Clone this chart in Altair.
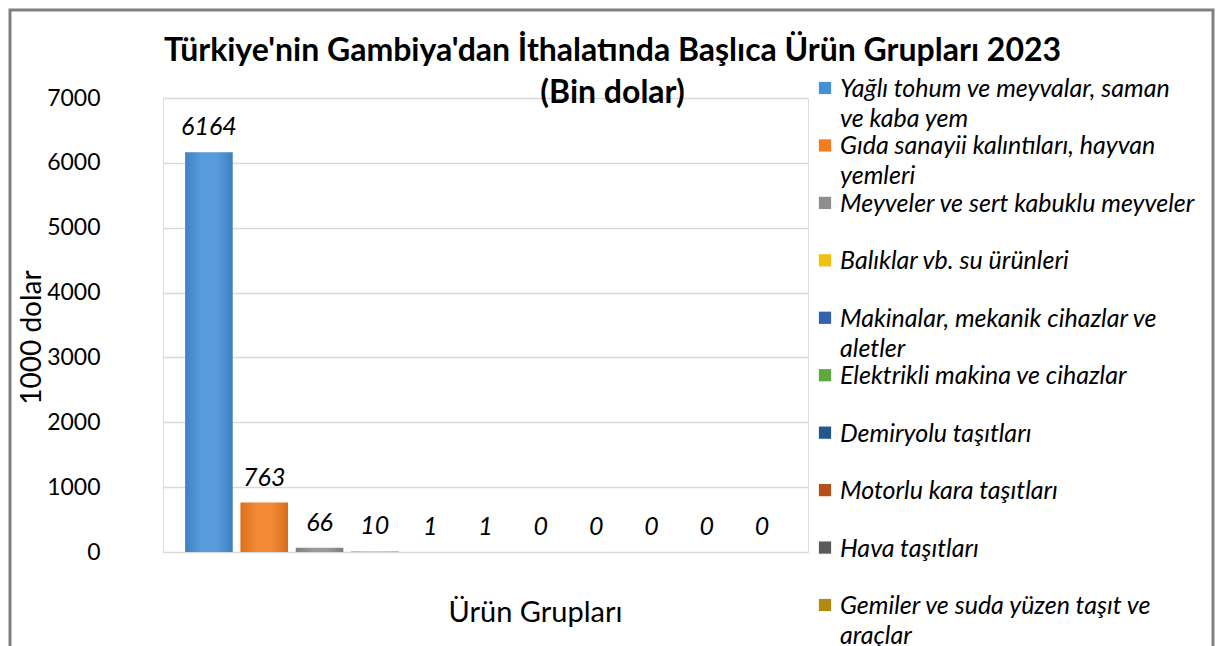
import altair as alt
import pandas as pd

# ---- data ----
legend_names = [
    "Yağlı tohum ve meyvalar, saman\nve kaba yem",
    "Gıda sanayii kalıntıları, hayvan\nyemleri",
    "Meyveler ve sert kabuklu meyveler",
    "Balıklar vb. su ürünleri",
    "Makinalar, mekanik cihazlar ve\naletler",
    "Elektrikli makina ve cihazlar",
    "Demiryolu taşıtları",
    "Motorlu kara taşıtları",
    "Hava taşıtları",
    "Gemiler ve suda yüzen taşıt ve\naraçlar",
]
values = [6164, 763, 66, 10, 1, 1, 0, 0, 0, 0, 0]
bar_colors = ["#4690d8", "#f27c1e", "#8e8e8e", "#f2c012", "#3562b0", "#5fa83f",
              "#24578f", "#b4501a", "#5a5a5a", "#b38a10", "#7fb2e3"]
y_ticks = [0, 1000, 2000, 3000, 4000, 5000, 6000, 7000]
title_lines = ["Türkiye'nin Gambiya'dan İthalatında Başlıca Ürün Grupları 2023", "(Bin dolar)"]

FONT = "Lato"

bars_df = pd.DataFrame({
    "sira": list(range(1, len(values) + 1)),
    "deger": values,
    "renk": bar_colors,
})
legend_df = pd.DataFrame({
    "idx": list(range(len(legend_names))),
    "ad": legend_names,
    "renk": bar_colors[:len(legend_names)],
})
frame_df = pd.DataFrame({"k": [0]})

x_scale = alt.Scale(paddingInner=0.14, paddingOuter=0.4)
x_enc = alt.X(
    "sira:O",
    scale=x_scale,
    axis=alt.Axis(labels=False, ticks=False, domain=False, grid=False,
                  title="Ürün Grupları", titleFont=FONT, titleFontSize=29,
                  titleFontWeight="normal", titleColor="#000000",
                  titleX=372, titleY=60, titleAlign="center", titleBaseline="middle"),
)
y_scale = alt.Scale(domain=[0, 7000], nice=False)

bars = alt.Chart(bars_df).mark_bar().encode(
    x=x_enc,
    y=alt.Y("deger:Q", scale=y_scale,
            axis=alt.Axis(values=y_ticks, format="d", grid=True, gridColor="#d9d9d9", gridWidth=1.5,
                          domain=False, ticks=False, tickSize=0, labelPadding=63,
                          labelFont=FONT, labelFontSize=23, labelColor="#000000",
                          title="1000 dolar", titleFont=FONT, titleFontSize=28,
                          titleFontWeight="normal", titleColor="#000000",
                          titleX=-131, titleY=239, titleAngle=270,
                          titleAlign="center", titleBaseline="middle")),
    color=alt.Color("renk:N", scale=None),
)

shine = alt.Chart(bars_df).mark_bar(
    color=alt.Gradient(
        gradient="linear", x1=0, x2=1, y1=0, y2=0,
        stops=[alt.GradientStop(offset=0, color="rgba(0,0,0,0.10)"),
               alt.GradientStop(offset=0.35, color="rgba(255,255,255,0.10)"),
               alt.GradientStop(offset=0.65, color="rgba(255,255,255,0.10)"),
               alt.GradientStop(offset=1, color="rgba(0,0,0,0.12)")],
    )
).encode(
    x=alt.X("sira:O"),
    y=alt.Y("deger:Q"),
)

labels = alt.Chart(bars_df).mark_text(
    dy=-25, baseline="middle", fontStyle="italic", font=FONT, fontSize=25, color="#000000"
).encode(
    x=alt.X("sira:O"),
    y=alt.Y("deger:Q"),
    text=alt.Text("deger:Q"),
)

main = alt.layer(bars, shine, labels)

leg_y = alt.Y("idx:Q", scale=alt.Scale(domain=[0, 9], range=[-10, 507]), axis=None)

leg_sym = alt.Chart(legend_df).mark_square(size=150, opacity=1).encode(
    x=alt.value(662),
    y=leg_y,
    color=alt.Color("renk:N", scale=None),
)
leg_txt = alt.Chart(legend_df).mark_text(
    align="left", baseline="alphabetic", dy=9, lineBreak="\n", lineHeight=30,
    fontStyle="italic", font=FONT, fontSize=25, color="#000000",
).encode(
    x=alt.value(677),
    y=leg_y,
    text="ad:N",
)

frame = alt.Chart(frame_df).mark_rect(filled=False, stroke="#808080", strokeWidth=3).encode(
    x=alt.value(-153), x2=alt.value(1050), y=alt.value(-88), y2=alt.value(620),
)

chart = alt.layer(main, leg_sym, leg_txt, frame).resolve_scale(y="independent").properties(
    width=645, height=454,
    autosize=alt.AutoSizeParams(type="none"),
    padding={"left": 155, "top": 90, "right": 407, "bottom": 94},
    title=alt.TitleParams(text=title_lines, font=FONT, fontSize=32, fontWeight="bold",
                          color="#000000", anchor="middle", dx=127, dy=93, lineHeight=42, offset=-8),
).configure_view(strokeWidth=0).configure(background="#ffffff")

chart.save("out.html", embed_options={"renderer": "svg", "actions": False})
